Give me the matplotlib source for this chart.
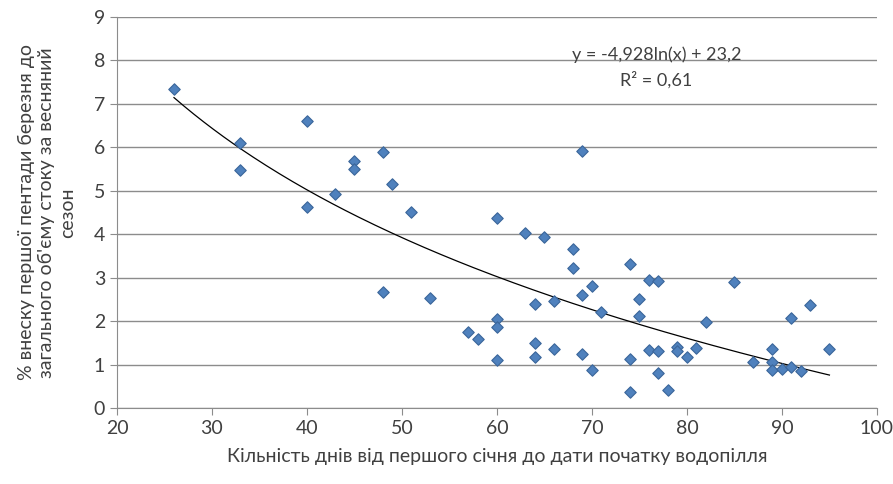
import matplotlib.pyplot as plt
import numpy as np

plt.rcParams['font.family'] = ['Lato', 'DejaVu Sans']

# days from 1 Jan to flood start
days = [26, 33, 33, 40, 40, 43, 45, 45, 48, 48, 49, 51, 53, 57, 58,
        60, 60, 60, 60, 63, 64, 64, 64, 65, 66, 66, 68, 68, 69, 69, 69,
        70, 70, 71, 74, 74, 74, 75, 75, 76, 76, 77, 77, 77, 78, 79, 79,
        80, 81, 82, 85, 87, 89, 89, 89, 90, 91, 91, 92, 93, 95]
# share of first March pentad, %
share = [7.35, 6.1, 5.48, 6.6, 4.62, 4.92, 5.68, 5.5, 5.9, 2.68, 5.16, 4.5, 2.53, 1.75, 1.58,
         4.38, 2.05, 1.87, 1.1, 4.03, 2.39, 1.5, 1.17, 3.93, 2.46, 1.35, 3.65, 3.22, 5.92, 2.6, 1.25,
         2.8, 0.87, 2.2, 3.32, 1.12, 0.38, 2.5, 2.12, 2.95, 1.33, 2.93, 1.32, 0.8, 0.42, 1.4, 1.32,
         1.18, 1.38, 1.97, 2.9, 1.07, 1.35, 1.05, 0.88, 0.9, 2.07, 0.95, 0.85, 2.38, 1.36]

# trend coefficients y = a*ln(x) + b
a, b = -4.928, 23.2

fig = plt.figure(figsize=(8.93, 4.84), dpi=100)
ax = fig.add_axes([0.131, 0.157, 0.851, 0.808])

ax.scatter(days, share, marker='D', s=34, color='#4F81BD', edgecolors='#3A659A',
           linewidths=0.8, zorder=3)

xt = np.linspace(min(days), max(days), 200)
ax.plot(xt, a * np.log(xt) + b, color='black', lw=0.9, zorder=2)

ax.set_xlim(20, 100)
ax.set_ylim(0, 9)
ax.set_xticks(range(20, 101, 10))
ax.set_yticks(range(0, 10))
ax.grid(axis='y', color='#8C8C8C', lw=1)
ax.set_axisbelow(True)
for s in ['top', 'right']:
    ax.spines[s].set_visible(False)
for s in ['left', 'bottom']:
    ax.spines[s].set_color('#8C8C8C')
ax.tick_params(colors='#8C8C8C', labelcolor='#404040', labelsize=14, length=5)

ax.set_xlabel('Кільність днів від першого січня до дати початку водопілля',
              fontsize=14, color='#404040', labelpad=8)
ax.set_ylabel("% внеску першої пентади березня до\nзагального об'єму стоку за весняний\nсезон",
              fontsize=14, color='#404040', labelpad=13, linespacing=1.25,
              multialignment='center')

ax.text(0.71, 0.89, 'y = -4,928ln(x) + 23,2', transform=ax.transAxes,
        ha='center', fontsize=13, color='#404040')
ax.text(0.71, 0.825, 'R² = 0,61', transform=ax.transAxes,
        ha='center', fontsize=13, color='#404040')

fig.savefig('out.png', dpi=100)
